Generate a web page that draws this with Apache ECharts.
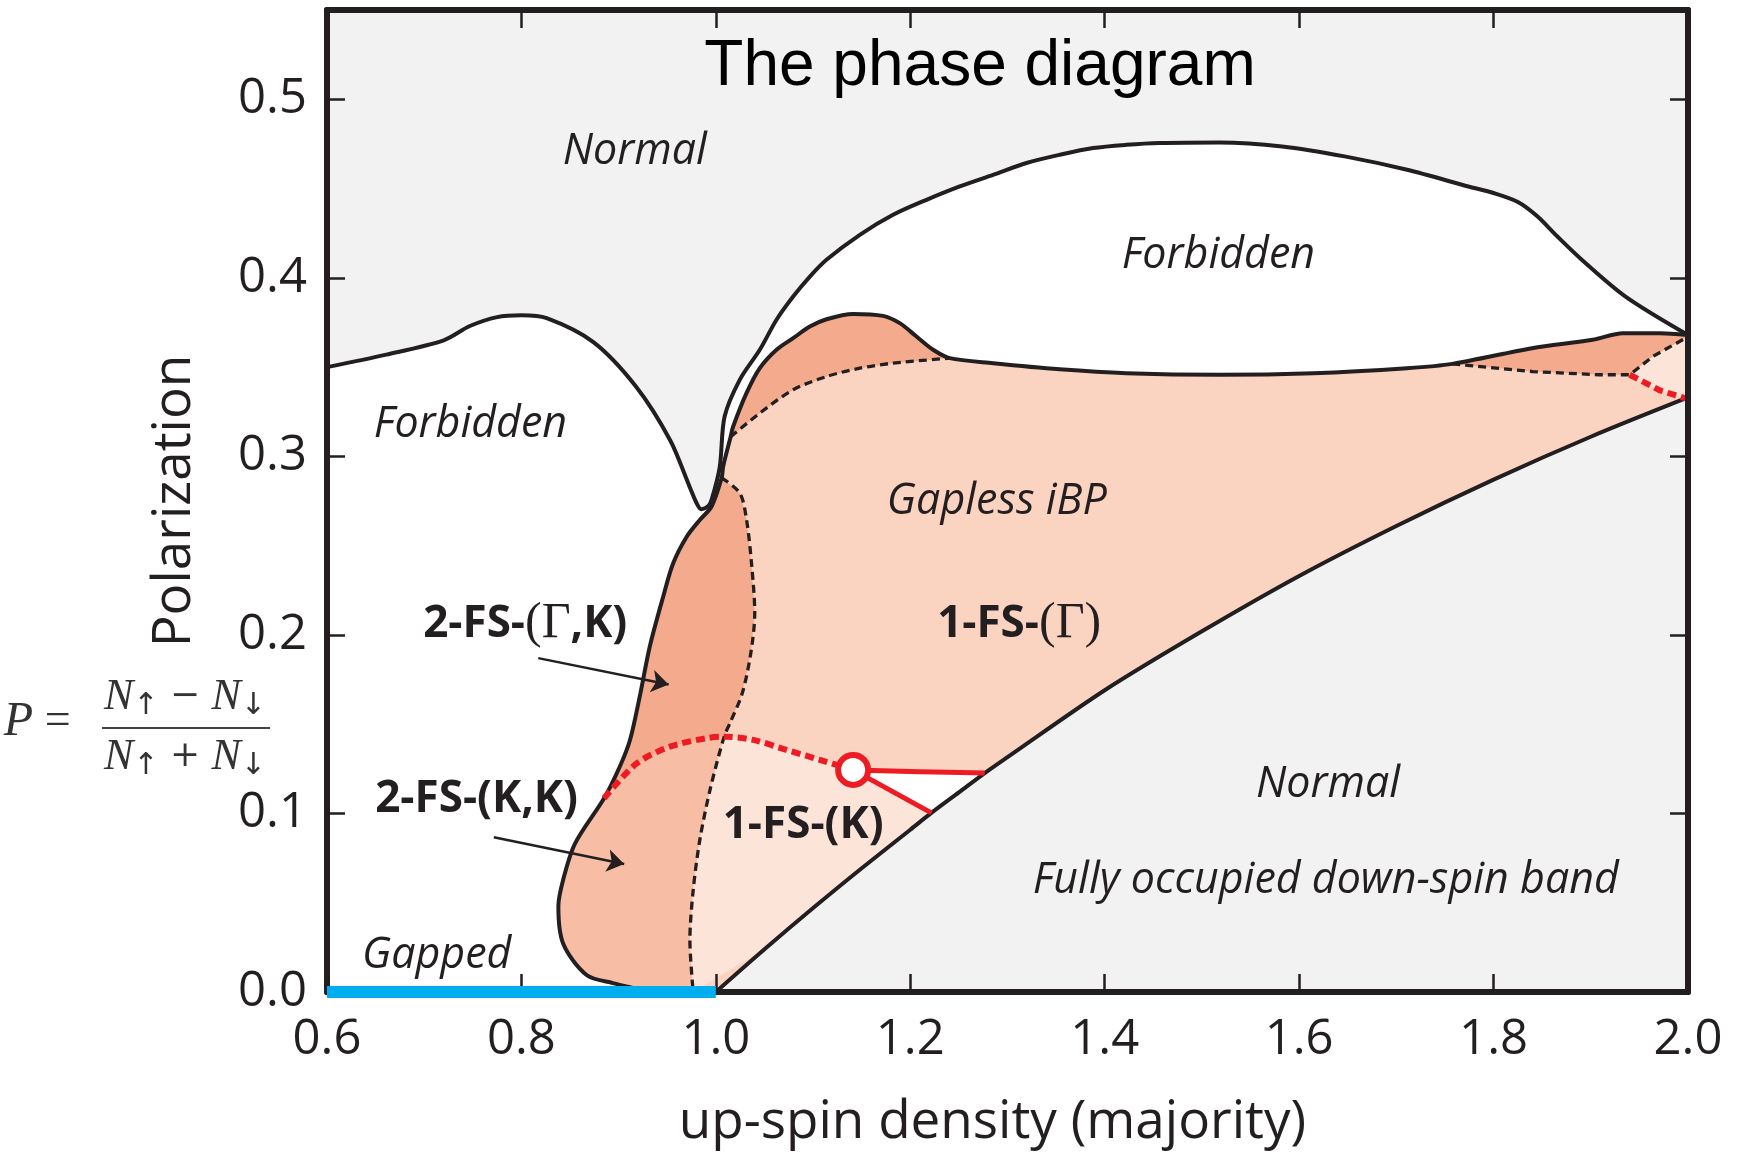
<!DOCTYPE html>
<html><head><meta charset="utf-8">
<script src="https://cdn.jsdelivr.net/npm/echarts@6/dist/echarts.min.js"></script>
<style>html,body{margin:0;padding:0;background:#fff;}#chart{width:1738px;height:1154px;}</style>
</head><body><div id="chart"></div>
<script>
// ---------------- data ----------------
const xTickValues = [0.6, 0.8, 1.0, 1.2, 1.4, 1.6, 1.8, 2.0];
const yTickValues = [0.0, 0.1, 0.2, 0.3, 0.4, 0.5];
const yTop = 0.55;

// Normal (top) / Forbidden boundary
const normalTopBoundary = [[0.6,0.350],[0.661,0.357],[0.72,0.365],[0.747,0.373],[0.775,0.378],[0.80,0.379],[0.826,0.3774],[0.874,0.364],[0.918,0.339],[0.953,0.309],[0.973,0.283],[0.980,0.274],[0.985,0.2704],[0.992,0.272],[0.9956,0.2756],[1.004,0.294],[1.009,0.3223],[1.0247,0.343],[1.0452,0.3597],[1.0624,0.3765],[1.0795,0.3895],[1.0967,0.4007],[1.1138,0.4101],[1.1481,0.4241],[1.1823,0.4353],[1.2167,0.4437],[1.2509,0.4512],[1.2852,0.4577],[1.3195,0.4643],[1.3537,0.4689],[1.388,0.4727],[1.4223,0.4745],[1.4565,0.4755],[1.518,0.4758],[1.5825,0.4736],[1.6468,0.468],[1.711,0.4605],[1.775,0.451],[1.80,0.4475],[1.825,0.4425],[1.845,0.4345],[1.865,0.4235],[1.891,0.410],[1.9357,0.3895],[2.0,0.368]];

// outer boundary of the paired region, in pieces
const outerKK    = [[0.935,0.0],[0.894,0.005],[0.867,0.0095],[0.843,0.027],[0.838,0.048],[0.843,0.063],[0.855,0.083],[0.885,0.1085]];
const outerGK    = [[0.885,0.1085],[0.901,0.126],[0.9116,0.141],[0.9219,0.166],[0.932,0.1934],[0.9458,0.2214],[0.956,0.240],[0.970,0.255],[0.9835,0.2644],[0.9956,0.2719],[1.006,0.288]];
const outerGap   = [[1.006,0.288],[1.0075,0.2943],[1.0152,0.311]];
const outerBump  = [[1.0152,0.311],[1.0178,0.3167],[1.0315,0.3354],[1.0452,0.3494],[1.0624,0.3597],[1.0795,0.3662],[1.0967,0.3727],[1.1138,0.3768],[1.1412,0.3798],[1.172,0.3787],[1.1892,0.3746],[1.2064,0.3671],[1.2235,0.3597],[1.2406,0.355]];
const outerFlat  = [[1.2406,0.355],[1.2852,0.3522],[1.3537,0.3488],[1.4223,0.3466],[1.518,0.3457],[1.6146,0.3466],[1.711,0.3494],[1.7575,0.3518]];
const outerRight = [[1.7575,0.3518],[1.8396,0.3606],[1.902,0.3653],[1.933,0.369],[1.971,0.369],[2.0,0.368]];

// fully occupied down-spin band boundary
const bandBoundary = [[1.0,0.0],[1.05,0.0239],[1.1,0.047],[1.15,0.0693],[1.2,0.0909],[1.2217,0.1003],[1.25,0.1118],[1.2766,0.1226],[1.3,0.1315],[1.4,0.169],[1.5,0.202],[1.6,0.233],[1.7,0.261],[1.8,0.287],[1.9,0.311],[2.0,0.333]];

// dashed / dotted phase lines
const dashUpper      = [[1.0152,0.311],[1.0452,0.3242],[1.0795,0.3373],[1.1138,0.3447],[1.1481,0.3494],[1.1823,0.3522],[1.2406,0.355]];
const dashVertUpper  = [[1.006,0.288],[1.0247,0.2794],[1.0316,0.2644],[1.0367,0.240],[1.040,0.2122],[1.036,0.19],[1.027,0.167],[1.0144,0.1505],[1.0085,0.143]];
const dashVertLower  = [[1.0085,0.143],[0.994,0.1132],[0.9835,0.0852],[0.9767,0.0571],[0.9733,0.0291],[0.9767,0.0]];
const dashRight      = [[1.7575,0.3518],[1.8405,0.3475],[1.909,0.3457],[1.94,0.3457],[1.964,0.356],[2.0,0.367]];
const redDotLeft     = [[0.885,0.1085],[0.9185,0.128],[0.9527,0.1374],[0.990,0.1421],[1.0085,0.143]];
const redDotMid      = [[1.0085,0.143],[1.0384,0.1412],[1.0727,0.1356],[1.107,0.130],[1.1412,0.1244]];
const redDotRight    = [[1.94,0.3457],[1.971,0.337],[2.0,0.332]];
const redSolidUpper  = [[1.1412,0.1244],[1.2098,0.1234],[1.2766,0.1226]];
const redSolidLower  = [[1.1412,0.1244],[1.2217,0.1003]];
const criticalPoint  = [[1.1412,0.1244]];
const gappedSegment  = [[0.6,0.0],[1.0,0.0]];
const arrowTails = [[0.8173,0.187],[0.7716,0.0867]];
const arrowHeads = [[0.9514,0.1722],[0.9057,0.0717]];

const regionLabels = ['Normal','Forbidden','Forbidden','Gapless iBP','1-FS-(Γ)','2-FS-(Γ,K)','2-FS-(K,K)','1-FS-(K)','Normal','Fully occupied down-spin band','Gapped'];
const regionLabelAnchors = [[0.9167,0.4707],[0.7476,0.3176],[1.517,0.4122],[1.289,0.2746],[1.312,0.2061],[0.8039,0.2061],[0.7538,0.1077],[1.0898,0.0934],[1.6297,0.1158],[1.6274,0.0623],[0.7128,0.0205]];

// ---------------- styling ----------------
const C = {gray:'#f2f2f2', white:'#ffffff', main:'#fbd3c1', dark:'#f4aa8d', kk:'#f8bda5', light:'#fde4d9', ink:'#231f20', red:'#ed1c24', blue:'#00aeef'};
const rev = a => a.slice().reverse();
const tail = a => a.slice(1);

const outerAll = [...outerKK, ...tail(outerGK), ...tail(outerGap), ...tail(outerBump), ...tail(outerFlat), ...tail(outerRight)];
const bandTo = x => bandBoundary.filter(p => p[0] <= x + 1e-9);

const polygons = [
  {pts:[...normalTopBoundary, ...rev(bandBoundary), [0.6,0.0]], fill:C.white},
  {pts:[...outerAll, ...rev(bandBoundary)], fill:C.main},
  {pts:[...outerKK, ...tail(redDotLeft), ...tail(dashVertLower)], fill:C.kk},
  {pts:[...outerGK, ...tail(dashVertUpper), ...tail(rev(redDotLeft))], fill:C.dark},
  {pts:[...outerBump, ...tail(rev(dashUpper))], fill:C.dark},
  {pts:[...outerRight, ...rev(dashRight)], fill:C.dark},
  {pts:[...dashRight.slice(3), ...rev(redDotRight)], fill:C.light},
  {pts:[...dashVertLower, ...tail(bandTo(1.2217)), ...rev(redSolidLower), ...tail(rev(redDotMid))], fill:C.light},
  {pts:[...redSolidUpper, ...rev(bandBoundary.filter(p => p[0] >= 1.2216 && p[0] <= 1.2767)).slice(1)], fill:C.white}
];

function polySeries(p){
  return {type:'custom', coordinateSystem:'cartesian2d', silent:true, z:1, clip:true,
    data:[p.pts[0]],
    renderItem:(params, api) => ({type:'polygon', shape:{points:p.pts.map(q => api.coord(q))}, style:{fill:p.fill, stroke:null}})
  };
}
function lineSeries(pts, color, width, type, smooth, z){
  return {type:'line', data:pts, showSymbol:false, symbol:'none', smooth:smooth, silent:true, z:z||3,
    lineStyle:{color:color, width:width, type:type, cap:'butt', join:'round', opacity:1}};
}

const FONT = 'Open Sans';
function richLabel(text){
  if (text.indexOf('FS') < 0) return '{i|' + text + '}';
  return text.split(/(\(Γ\)|\(Γ)/).filter(s => s).map(s => (s[0]==='(' && s[1]==='Γ') ? '{g|'+s+'}' : '{b|'+s+'}').join('');
}

const series = [
  ...polygons.map(polySeries),
  lineSeries(normalTopBoundary, C.ink, 4, 'solid', 0.3),
  lineSeries(outerAll, C.ink, 4, 'solid', 0.3),
  lineSeries(bandBoundary, C.ink, 4, 'solid', 0.3),
  lineSeries(dashUpper, C.ink, 3.3, [8,5], 0.3),
  lineSeries([...dashVertUpper, ...tail(dashVertLower)], C.ink, 3.3, [8,5], 0.3),
  lineSeries(dashRight, C.ink, 3.3, [8,5], 0),
  lineSeries([...redDotLeft, ...tail(redDotMid)], C.red, 6, [9,5], 0.3),
  lineSeries(redDotRight, C.red, 6, [9,5], 0),
  lineSeries(redSolidUpper, C.red, 5, 'solid', 0.3),
  lineSeries(redSolidLower, C.red, 5, 'solid', 0),
  {type:'scatter', data:criticalPoint, symbol:'circle', symbolSize:30, silent:true, z:6,
    itemStyle:{color:'#fff', borderColor:C.red, borderWidth:6, opacity:1}},
  Object.assign(lineSeries(gappedSegment, C.blue, 12, 'solid', 0, 15), {clip:false}),
  {type:'line', data:[], silent:true, z:5,
    markLine:{silent:true, symbol:['none','arrow'], symbolSize:17, animation:false,
      label:{show:false}, lineStyle:{color:C.ink, width:2.5, type:'solid', opacity:1},
      data: arrowTails.map((t,i) => [{coord:t}, {coord:arrowHeads[i]}])}},
  {type:'scatter', symbolSize:0, silent:true, z:20,
    itemStyle:{opacity:1, color:'transparent'},
    data: regionLabelAnchors.map((p,i) => ({value:p, label:{formatter:richLabel(regionLabels[i])}})),
    label:{show:true, position:'inside', align:'center', verticalAlign:'middle', opacity:1,
      rich:{
        i:{fontFamily:FONT, fontStyle:'italic', fontSize:43, color:C.ink},
        b:{fontFamily:FONT, fontWeight:'bold', fontSize:44, color:C.ink},
        g:{fontFamily:'Liberation Serif', fontSize:50, color:C.ink}
      }}}
];

const axisCommon = {
  z:10,
  axisLine:{show:true, onZero:false, lineStyle:{color:C.ink, width:6}},
  axisTick:{show:true, inside:true, length:18, lineStyle:{color:C.ink, width:2.5}},
  splitLine:{show:false}
};
const tickFmt = v => (v > yTop - 1e-6 ? '' : v.toFixed(1));
const labelStyle = {fontFamily:FONT, fontSize:49, color:C.ink};

const option = {
  animation:false,
  backgroundColor:'#ffffff',
  title:{text:'The phase diagram', left:975, top:30, textAlign:'center',
    textStyle:{fontFamily:'Liberation Sans', fontSize:64, fontWeight:'normal', color:'#000'}},
  grid:{left:327, right:50, top:10, bottom:162, show:true, backgroundColor:C.gray, borderWidth:0},
  xAxis:[
    Object.assign({type:'value', position:'bottom', min:xTickValues[0], max:xTickValues[xTickValues.length-1], interval:0.2,
      axisLabel:Object.assign({margin:24, formatter:v => v.toFixed(1)}, labelStyle),
      name:'up-spin density (majority)', nameLocation:'middle', nameGap:104,
      nameTextStyle:{fontFamily:FONT, fontSize:53, color:C.ink, padding:[0,30,0,0]}}, axisCommon),
    Object.assign({type:'value', position:'top', min:xTickValues[0], max:xTickValues[xTickValues.length-1], interval:0.2,
      axisLabel:{show:false}}, axisCommon)
  ],
  yAxis:[
    Object.assign({type:'value', position:'left', min:yTickValues[0], max:yTop, interval:0.1,
      axisLabel:Object.assign({margin:20, showMaxLabel:false, formatter:tickFmt}, labelStyle),
      name:'Polarization', nameLocation:'middle', nameGap:126,
      nameTextStyle:{fontFamily:FONT, fontSize:53, color:C.ink}}, axisCommon),
    Object.assign({type:'value', position:'right', min:yTickValues[0], max:yTop, interval:0.1,
      axisLabel:{show:false}}, axisCommon)
  ],
  graphic:[
    {type:'text', x:43, y:722, silent:true, style:{text:'{p|P}{e| = }', textAlign:'center', textVerticalAlign:'middle',
      rich:{p:{fontFamily:'Liberation Serif', fontStyle:'italic', fontSize:48, fill:'#333'}, e:{fontFamily:'Liberation Serif', fontSize:46, fill:'#333'}}}},
    {type:'line', silent:true, shape:{x1:102, y1:728, x2:270, y2:728}, style:{stroke:'#444', lineWidth:2}},
    {type:'text', x:185, y:697, silent:true, style:{text:'{n|N}{s|↑}{o| − }{n|N}{s|↓}', textAlign:'center', textVerticalAlign:'middle',
      rich:{n:{fontFamily:'Liberation Serif', fontStyle:'italic', fontSize:44, lineHeight:48, fill:'#333'},
            s:{fontFamily:'DejaVu Sans', fontSize:30, lineHeight:8, verticalAlign:'bottom', fill:'#333'},
            o:{fontFamily:'DejaVu Serif', fontSize:36, fill:'#333'}}}},
    {type:'text', x:185, y:757, silent:true, style:{text:'{n|N}{s|↑}{o| + }{n|N}{s|↓}', textAlign:'center', textVerticalAlign:'middle',
      rich:{n:{fontFamily:'Liberation Serif', fontStyle:'italic', fontSize:44, lineHeight:48, fill:'#333'},
            s:{fontFamily:'DejaVu Sans', fontSize:30, lineHeight:8, verticalAlign:'bottom', fill:'#333'},
            o:{fontFamily:'DejaVu Serif', fontSize:36, fill:'#333'}}}}
  ],
  series:series
};

const chart = echarts.init(document.getElementById('chart'), null, {renderer:'canvas'});
chart.setOption(option);
</script>
</body></html>
